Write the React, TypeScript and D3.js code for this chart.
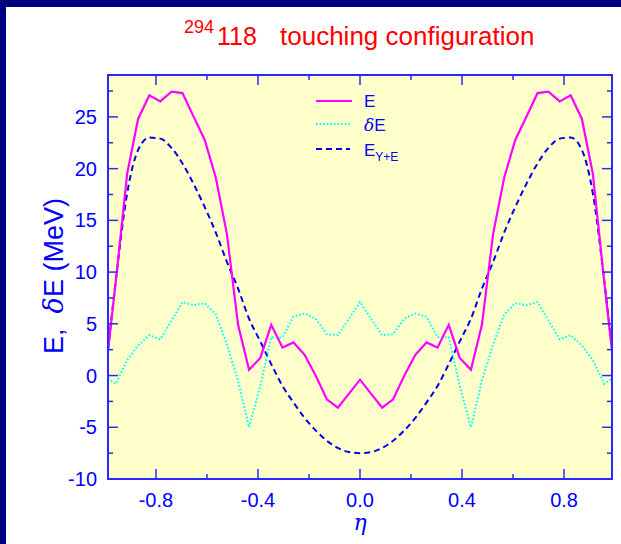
import React from "react";
import * as d3 from "d3";

// Deformation parameter η (mass asymmetry) sampled across the touching configuration
const eta = [
  -0.988, -0.957, -0.913, -0.87, -0.826, -0.783, -0.739, -0.696, -0.652, -0.609,
  -0.565, -0.522, -0.478, -0.435, -0.391, -0.348, -0.304, -0.261, -0.217, -0.174,
  -0.13, -0.087, -0.043, 0, 0.043, 0.087, 0.13, 0.174, 0.217, 0.261, 0.304, 0.348,
  0.391, 0.435, 0.478, 0.522, 0.565, 0.609, 0.652, 0.696, 0.739, 0.783, 0.826, 0.87,
  0.913, 0.957, 0.988,
];

// Total energy E (MeV)
const energyTotal = [
  2.4, 9.2, 19.5, 24.8, 27.1, 26.5, 27.45, 27.3, 25.0, 22.8, 19.1, 13.7, 4.9, 0.55,
  1.7, 4.9, 2.7, 3.2, 2.0, 0.0, -2.3, -3.1, -1.75, -0.4, -1.75, -3.1, -2.3, 0.0, 2.0,
  3.2, 2.7, 4.9, 1.7, 0.55, 4.9, 13.7, 19.1, 22.8, 25.0, 27.3, 27.45, 26.5, 27.1,
  24.8, 19.5, 9.2, 2.4,
];

// Shell correction δE (MeV)
const shellCorrection = [
  -0.3, -0.8, 1.5, 2.9, 3.9, 3.5, 5.3, 7.1, 6.8, 7.0, 5.9, 3.0, -0.5, -5.0, -1.0,
  3.7, 3.7, 5.7, 6.0, 5.5, 4.0, 3.9, 5.5, 7.1, 5.5, 3.9, 4.0, 5.5, 6.0, 5.7, 3.7,
  3.7, -1.0, -5.0, -0.5, 3.0, 5.9, 7.0, 6.8, 7.1, 5.3, 3.5, 3.9, 2.9, 1.5, -0.8, -0.3,
];

// Yukawa-plus-exponential macroscopic energy E_Y+E (MeV)
const energyYE = [
  2.5, 9.3, 17.6, 21.8, 23.0, 22.9, 22.0, 20.5, 18.5, 16.3, 13.8, 11.0, 8.4, 5.5,
  3.3, 1.1, -1.0, -2.6, -4.1, -5.3, -6.3, -7.0, -7.4, -7.5, -7.4, -7.0, -6.3, -5.3,
  -4.1, -2.6, -1.0, 1.1, 3.3, 5.5, 8.4, 11.0, 13.8, 16.3, 18.5, 20.5, 22.0, 22.9,
  23.0, 21.8, 17.6, 9.3, 2.5,
];

const xMajorTicks = [-0.8, -0.4, 0.0, 0.4, 0.8];
const xMinorTicks = [-0.6, -0.2, 0.2, 0.6];
const yMajorTicks = [-10, -5, 0, 5, 10, 15, 20, 25];
const yMinorTicks = [-7.5, -2.5, 2.5, 7.5, 12.5, 17.5, 22.5, 27.5];

const W = 621;
const H = 544;
const plot = { left: 108, right: 612, top: 75, bottom: 479 };

const BLUE = "#0000ff";
const FRAME = "#2a2aff";
const SANS = "'Liberation Sans', Arial, Helvetica, sans-serif";
const SERIF = "'DejaVu Serif', 'Liberation Serif', serif";

export default function App() {
  const x = d3.scaleLinear().domain([-0.988, 0.988]).range([plot.left, plot.right]);
  const y = d3.scaleLinear().domain([-10, 29.05]).range([plot.bottom, plot.top]);

  const pts = (vals: number[]) => eta.map((e, i) => [e, vals[i]] as [number, number]);
  const linear = d3
    .line<[number, number]>()
    .x((d) => x(d[0]))
    .y((d) => y(d[1]));
  const smooth = d3
    .line<[number, number]>()
    .x((d) => x(d[0]))
    .y((d) => y(d[1]))
    .curve(d3.curveMonotoneX);

  const majorLen = 10;
  const minorLen = 5;

  return (
    <svg
      width={W}
      height={H}
      style={{ position: "absolute", left: 0, top: 0, background: "#ffffff" }}
    >
      <defs>
        <clipPath id="plotClip">
          <rect
            x={plot.left}
            y={plot.top}
            width={plot.right - plot.left}
            height={plot.bottom - plot.top}
          />
        </clipPath>
      </defs>
      <rect x={0} y={0} width={W} height={H} fill="#ffffff" />
      {/* slide border */}
      <rect x={0} y={0} width={W} height={7} fill="#000080" />
      <rect x={0} y={0} width={6} height={H} fill="#000080" />

      {/* title */}
      <text fill="#ff0000" fontFamily={SANS} style={{ whiteSpace: "pre" }}>
        <tspan x={184} y={33} fontSize={18}>294</tspan>
        <tspan x={217} y={45} fontSize={25}>118</tspan>
        <tspan x={280} y={45} fontSize={26}>touching configuration</tspan>
      </text>

      {/* plot area */}
      <rect
        x={plot.left}
        y={plot.top}
        width={plot.right - plot.left}
        height={plot.bottom - plot.top}
        fill="#ffffcc"
      />

      <g clipPath="url(#plotClip)" fill="none">
        <path d={smooth(pts(energyYE)) || ""} stroke="#0000ee" strokeWidth={2} strokeDasharray="6,4" />
        <path d={linear(pts(shellCorrection)) || ""} stroke="#00ffff" strokeWidth={2} strokeDasharray="1.6,2" />
        <path d={linear(pts(energyTotal)) || ""} stroke="#ff00ff" strokeWidth={2.2} strokeLinejoin="miter" />
      </g>

      {/* ticks on all four sides, pointing inward */}
      <g stroke={FRAME} strokeWidth={1.5}>
        {xMajorTicks.map((t) => (
          <g key={"xM" + t}>
            <line x1={x(t)} x2={x(t)} y1={plot.bottom} y2={plot.bottom - majorLen} />
            <line x1={x(t)} x2={x(t)} y1={plot.top} y2={plot.top + majorLen} />
          </g>
        ))}
        {xMinorTicks.map((t) => (
          <g key={"xm" + t}>
            <line x1={x(t)} x2={x(t)} y1={plot.bottom} y2={plot.bottom - minorLen} />
            <line x1={x(t)} x2={x(t)} y1={plot.top} y2={plot.top + minorLen} />
          </g>
        ))}
        {yMajorTicks.map((t) => (
          <g key={"yM" + t}>
            <line x1={plot.left} x2={plot.left + majorLen} y1={y(t)} y2={y(t)} />
            <line x1={plot.right} x2={plot.right - majorLen} y1={y(t)} y2={y(t)} />
          </g>
        ))}
        {yMinorTicks.map((t) => (
          <g key={"ym" + t}>
            <line x1={plot.left} x2={plot.left + minorLen} y1={y(t)} y2={y(t)} />
            <line x1={plot.right} x2={plot.right - minorLen} y1={y(t)} y2={y(t)} />
          </g>
        ))}
      </g>

      {/* frame */}
      <rect
        x={plot.left}
        y={plot.top}
        width={plot.right - plot.left}
        height={plot.bottom - plot.top}
        fill="none"
        stroke={FRAME}
        strokeWidth={2}
      />

      {/* tick labels */}
      <g fill={BLUE} fontFamily={SANS} fontSize={20}>
        {xMajorTicks.map((t) => (
          <text key={"xl" + t} x={x(t)} y={507} textAnchor="middle">
            {t.toFixed(1)}
          </text>
        ))}
        {yMajorTicks.map((t) => (
          <text key={"yl" + t} x={97} y={y(t) + 7} textAnchor="end">
            {t}
          </text>
        ))}
      </g>

      {/* axis titles */}
      <text
        x={x(0)}
        y={530}
        textAnchor="middle"
        fill={BLUE}
        fontFamily={SERIF}
        fontStyle="italic"
        fontSize={22}
      >
        η
      </text>
      <text
        transform={`translate(63,276) rotate(-90)`}
        textAnchor="middle"
        fill={BLUE}
        fontFamily={SANS}
        fontSize={27}
        style={{ whiteSpace: "pre" }}
      >
        {"E,  "}
        <tspan fontFamily={SERIF} fontStyle="italic">δ</tspan>
        {"E (MeV)"}
      </text>

      {/* legend */}
      <g fontFamily={SANS} fontSize={17} fill={BLUE}>
        <line x1={316} x2={352} y1={101} y2={101} stroke="#ff00ff" strokeWidth={2.2} />
        <text x={364} y={107}>E</text>
        <line x1={316} x2={352} y1={124} y2={124} stroke="#00ffff" strokeWidth={2} strokeDasharray="1.6,2" />
        <text x={364} y={131}>
          <tspan fontFamily={SERIF} fontStyle="italic">δ</tspan>E
        </text>
        <line x1={316} x2={350} y1={149} y2={149} stroke="#0000ee" strokeWidth={2} strokeDasharray="6,4" />
        <text x={364} y={156}>
          E<tspan fontSize={12} dy={5}>Y+E</tspan>
        </text>
      </g>
    </svg>
  );
}
